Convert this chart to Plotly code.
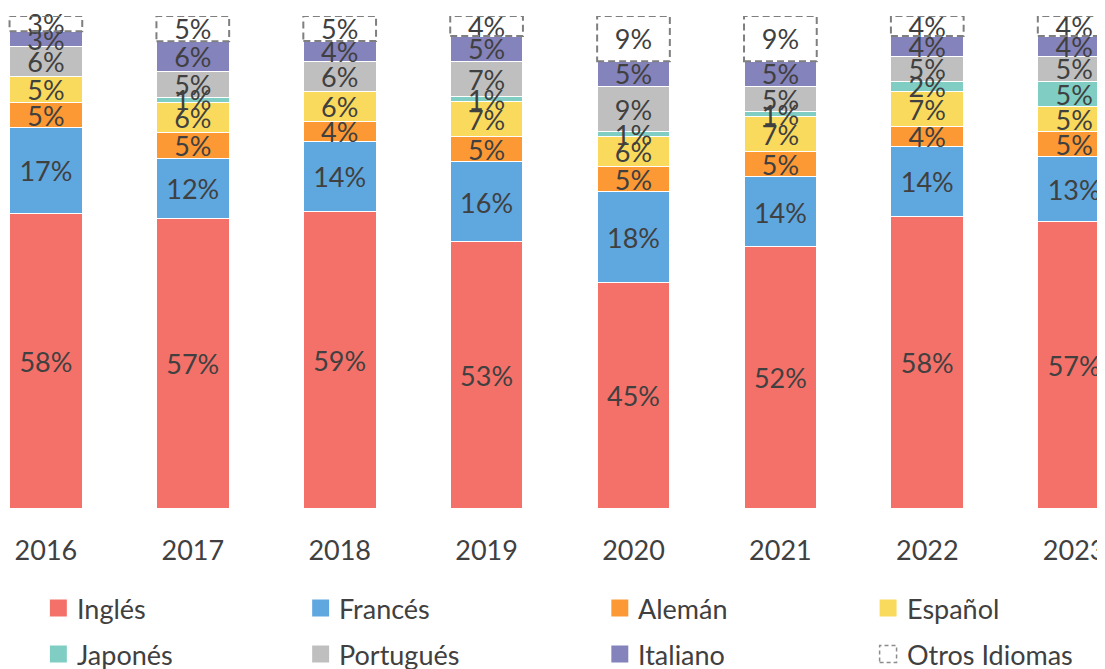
import plotly.graph_objects as go

years = ["2016", "2017", "2018", "2019", "2020", "2021", "2022", "2023"]
series_names = ["Inglés", "Francés", "Alemán", "Español", "Japonés", "Portugués", "Italiano", "Otros Idiomas"]
ingles    = [58, 57, 59, 53, 45, 52, 58, 57]
frances   = [17, 12, 14, 16, 18, 14, 14, 13]
aleman    = [5, 5, 4, 5, 5, 5, 4, 5]
espanol   = [5, 6, 6, 7, 6, 7, 7, 5]
japones   = [0, 1, 0, 1, 1, 1, 2, 5]
portugues = [6, 5, 6, 7, 9, 5, 5, 5]
italiano  = [3, 6, 4, 5, 5, 5, 4, 4]
otros     = [3, 5, 5, 4, 9, 9, 4, 4]

series_values = [ingles, frances, aleman, espanol, japones, portugues, italiano, otros]
colors = ["#F4716A", "#5FA7DF", "#FD9934", "#F9DA5C", "#7FCDC3", "#BFBFBF", "#8583BB", "#FFFFFF"]

# page body has an 8px margin: figure is laid out in its own pixel space
OFF = 8
W, H = 1105 - OFF, 669 - OFF
FONT = "Lato"
TXT = "#404040"
FS = 27

top_px, bot_px = 16 - OFF, 508 - OFF
plot_h = bot_px - top_px
label_drop = 4 * 100 / plot_h  # small downward nudge of labels, in axis units

fig = go.Figure()

totals = [sum(s[i] for s in series_values) for i in range(len(years))]

for name, vals, col in zip(series_names, series_values, colors):
    is_otros = name == "Otros Idiomas"
    fig.add_trace(go.Bar(
        x=years, y=vals, name=name,
        marker=dict(color=col,
                    line=dict(color="white" if not is_otros else "rgba(0,0,0,0)",
                              width=1 if not is_otros else 0)),
        showlegend=False, hoverinfo="name+y",
    ))

BAR_HALF = (1 - 0.505) / 2
cum = [0] * len(years)
for name, vals in zip(series_names, series_values):
    xs, ys, ts = [], [], []
    for i, v in enumerate(vals):
        lo = cum[i] / totals[i] * 100
        hi = (cum[i] + v) / totals[i] * 100
        if v > 0:
            xs.append(years[i]); ys.append((lo + hi) / 2 - label_drop); ts.append(f"{v}%")
        if name == "Otros Idiomas":
            fig.add_shape(type="rect", xref="x", yref="y",
                          x0=i - BAR_HALF, x1=i + BAR_HALF, y0=lo, y1=hi,
                          line=dict(color="#7F7F7F", width=2, dash="7px,4px"),
                          fillcolor="rgba(0,0,0,0)", layer="above")
        cum[i] += v
    fig.add_trace(go.Scatter(x=xs, y=ys, text=ts, mode="text", cliponaxis=False,
                             textfont=dict(family=FONT, size=FS, color=TXT),
                             showlegend=False, hoverinfo="skip"))

# manual legend (paper coordinates = whole figure since margins are 0)
leg_px = [50 - OFF, 313 - OFF, 613 - OFF, 882 - OFF]
leg_rows = [608 - OFF, 654 - OFF]
sq = 17
for k, (name, col) in enumerate(zip(series_names, colors)):
    r, c = divmod(k, 4)
    x0 = leg_px[c]
    yc = leg_rows[r]
    if name == "Otros Idiomas":
        line = dict(color="#8C8C8C", width=1.5, dash="4px,3px")
    else:
        line = dict(width=0)
    fig.add_shape(type="rect", xref="paper", yref="paper",
                  x0=x0 / W, x1=(x0 + sq) / W,
                  y0=(H - yc - sq / 2) / H, y1=(H - yc + sq / 2) / H,
                  fillcolor=col, line=line)
    fig.add_annotation(x=(x0 + sq + 8) / W, y=(H - yc) / H, xref="paper", yref="paper",
                       text=name, showarrow=False, xanchor="left", yanchor="middle",
                       font=dict(family=FONT, size=FS, color=TXT))

px_per_cat = 147.3
x0_val = -(46 - OFF) / px_per_cat

fig.update_layout(
    width=W, height=H,
    margin=dict(l=0, r=0, t=0, b=0),
    barmode="stack", barnorm="percent", bargap=0.505,
    plot_bgcolor="white", paper_bgcolor="white",
    font=dict(family=FONT, size=FS, color=TXT),
    showlegend=False,
    xaxis=dict(type="category", range=[x0_val, x0_val + W / px_per_cat],
               showline=False, showgrid=False, zeroline=False,
               ticks="outside", ticklen=19, tickcolor="rgba(0,0,0,0)",
               tickfont=dict(family=FONT, size=FS, color=TXT), fixedrange=True),
    yaxis=dict(range=[0, 100], domain=[(H - bot_px) / H, (H - top_px) / H],
               visible=False, fixedrange=True),
)

fig.write_html("out.html")
